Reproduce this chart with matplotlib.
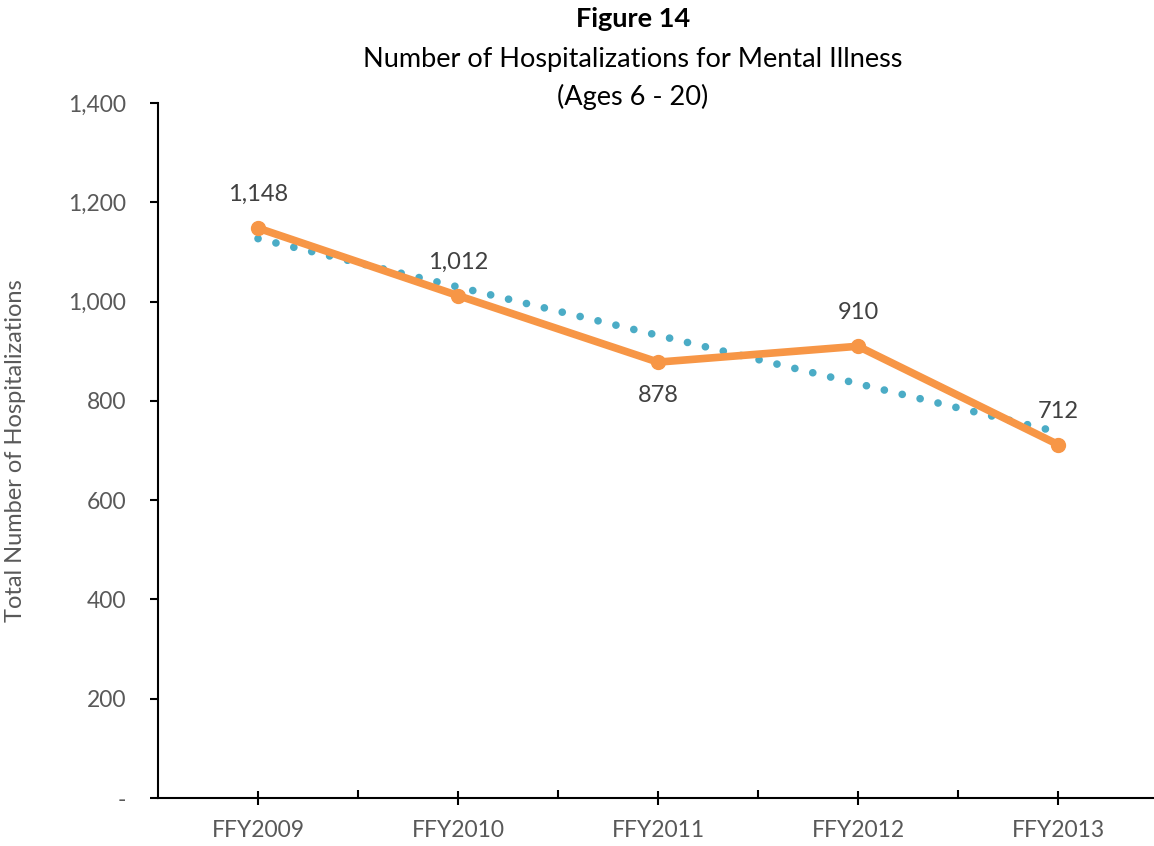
import numpy as np
import matplotlib.pyplot as plt
from matplotlib.ticker import FuncFormatter, FixedLocator

plt.rcParams['font.family'] = ['Lato', 'DejaVu Sans']

# data
years = ['FFY2009', 'FFY2010', 'FFY2011', 'FFY2012', 'FFY2013']
hospitalizations = [1148, 1012, 878, 910, 712]
label_side = ['above', 'above', 'below', 'above', 'above']

x = np.arange(len(years))
y = np.array(hospitalizations)

# linear trendline (as Excel draws it)
slope, intercept = np.polyfit(x, y, 1)
trend = slope * x + intercept

fig = plt.figure(figsize=(11.54, 8.46), dpi=100)
ax = fig.add_axes([158 / 1154, 1 - 798 / 846, 1000 / 1154, 695 / 846])

ax.plot(x, trend, color='#4BACC6', linewidth=5.5, linestyle=(0, (0.01, 2.4)),
        dash_capstyle='round', zorder=2)
ax.plot(x, y, color='#F79646', linewidth=5.5, marker='o', markersize=10,
        solid_capstyle='round', zorder=3)

for xi, yi, side in zip(x, y, label_side):
    dy = 24 if side == 'above' else -24
    ax.annotate(f'{yi:,}', (xi, yi), xytext=(0, dy), textcoords='offset points',
                ha='center', va='center', fontsize=17, color='#404040')

ax.set_xlim(-0.5, 4.5)
ax.set_ylim(0, 1400)
ax.set_yticks(np.arange(0, 1401, 200))
ax.yaxis.set_major_formatter(FuncFormatter(lambda v, p: '-' if v == 0 else f'{int(v):,}'))
ax.set_xticks(x)
ax.set_xticklabels(years)
ax.xaxis.set_minor_locator(FixedLocator(np.arange(0.5, 4.0, 1.0)))

ax.tick_params(axis='y', direction='out', length=6, width=1.5, labelsize=16.5,
               labelcolor='#595959', pad=17)
ax.tick_params(axis='x', which='major', direction='inout', length=10, width=1.5,
               labelsize=16.5, labelcolor='#595959', pad=11)
ax.tick_params(axis='x', which='minor', direction='in', length=6, width=1.5)

for s in ['top', 'right']:
    ax.spines[s].set_visible(False)
for s in ['left', 'bottom']:
    ax.spines[s].set_linewidth(1.5)

ax.set_ylabel('Total Number of Hospitalizations', fontsize=17, color='#595959', labelpad=30)

fig.text(0.5485, 0.977, 'Figure 14', ha='center', va='center', fontsize=19.5,
         fontweight='bold', color='black')
fig.text(0.5485, 0.930, 'Number of Hospitalizations for Mental Illness', ha='center',
         va='center', fontsize=19.5, color='black')
fig.text(0.5485, 0.885, '(Ages 6 - 20)', ha='center', va='center', fontsize=19.5,
         color='black')

fig.savefig('out.png', dpi=100)
